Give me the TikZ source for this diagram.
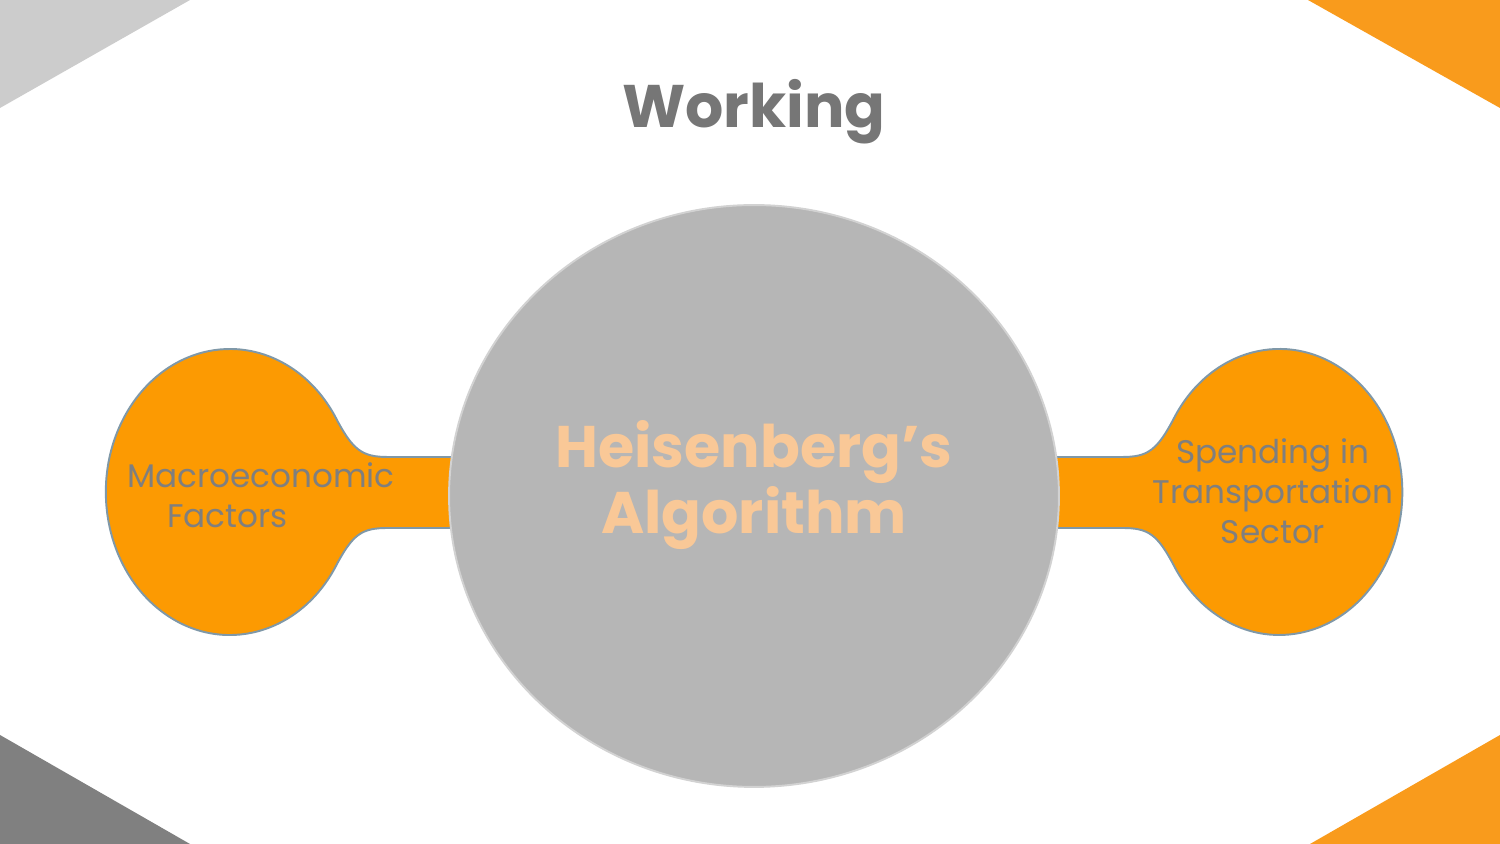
\documentclass[tikz,border=0pt]{standalone}
\usepackage{fontspec}
\setmainfont{Poppins}
\usepackage{xcolor}
\usetikzlibrary{positioning,shapes.geometric}
\definecolor{cornergray}{HTML}{CCCCCC}
\definecolor{cornerdark}{HTML}{808080}
\definecolor{cornerorange}{HTML}{F99B1C}
\definecolor{blobfill}{HTML}{FC9A02}
\definecolor{blobedge}{HTML}{7F98A8}
\definecolor{hubfill}{HTML}{B6B6B6}
\definecolor{hubedge}{HTML}{D2D2D2}
\definecolor{peach}{HTML}{F9C897}
\definecolor{labelgray}{HTML}{7F7F7F}
\definecolor{titlegray}{HTML}{767676}
\tikzstyle{blob}=[fill=blobfill,draw=blobedge,line width=1.1pt]
\tikzstyle{hub}=[ellipse,fill=hubfill,draw=hubedge,line width=1.1pt,inner sep=0pt,minimum width=12.2cm,minimum height=11.64cm]
\tikzstyle{blobtext}=[text=labelgray,inner sep=0pt,font={\fontsize{18.6}{22.7}\selectfont}]
\tikzstyle{hubtext}=[text=peach,inner sep=0pt,align=center,font={\fontsize{33.4}{37.4}\selectfont\bfseries}]

\begin{document}
\begin{tikzpicture}[x=0.02cm,y=0.02cm]
\useasboundingbox (0,0) rectangle (1500,844);
\fill[white] (0,0) rectangle (1500,844);
% corner wedges
\fill[cornergray] (0,844) -- (190,844) -- (0,736) -- cycle;
\fill[cornerorange] (1500,844) -- (1308,844) -- (1500,736) -- cycle;
\fill[cornerdark] (0,0) -- (190,0) -- (0,109) -- cycle;
\fill[cornerorange] (1500,0) -- (1310,0) -- (1500,109) -- cycle;
% title
\node[anchor=base,text=titlegray,inner sep=0pt,font={\fontsize{34.2}{40}\selectfont\bfseries}] (title) at (754,716) {Working};
% side blobs
\draw[blob] (470,316) -- (388,316)
   .. controls (362,316) and (352.7,310.5) .. (335,276.2)
   arc[start angle=-32,end angle=-328,x radius=124,y radius=143]
   .. controls (352.7,393.5) and (362,387) .. (388,387)
   -- (470,387) -- cycle;
\draw[blob] (1040,387) -- (1122,387)
   .. controls (1148,387) and (1157.3,393.5) .. (1175,427.8)
   arc[start angle=148,end angle=-148,x radius=123,y radius=143]
   .. controls (1157.3,310.5) and (1148,316) .. (1122,316)
   -- (1040,316) -- cycle;
% centre
\node[hub] (hub) at (754,348) {};
\node[hubtext] (algo) at (754,359) {Heisenberg’s\\Algorithm};
\node[blobtext,align=left] (macro) at (261,348.5) {Macroeconomic\\\hspace*{22.7pt}Factors};
\node[blobtext,align=center] (spend) at (1273,352.5) {Spending in\\Transportation\\Sector};
\end{tikzpicture}
\end{document}
